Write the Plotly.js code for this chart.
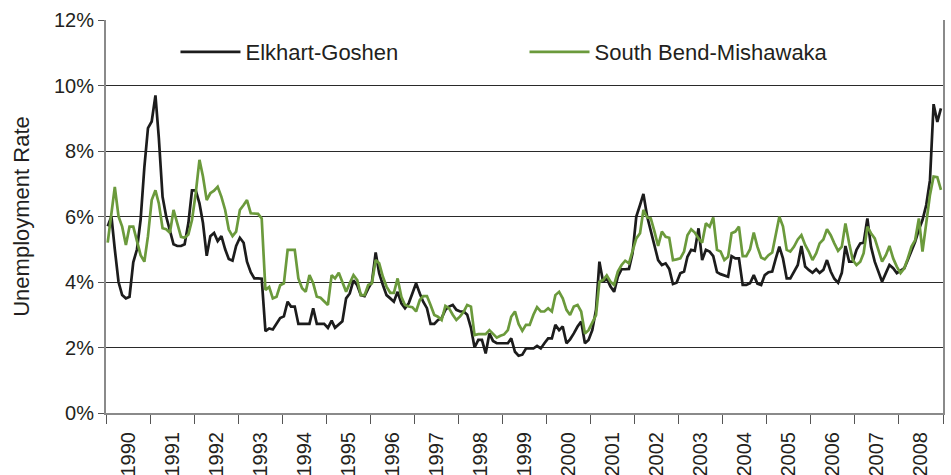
<!DOCTYPE html>
<html>
<head>
<meta charset="utf-8">
<script src="https://cdn.plot.ly/plotly-3.0.1.min.js"></script>
<style>html,body{margin:0;padding:0;background:#fff;}#chart{width:951px;height:475px;}</style>
</head>
<body>
<div id="chart"></div>
<script>
// Monthly unemployment rate (%), Jan 1990 - Dec 2008
const years = [1990,1991,1992,1993,1994,1995,1996,1997,1998,1999,2000,2001,2002,2003,2004,2005,2006,2007,2008];
const seriesNames = ["Elkhart-Goshen", "South Bend-Mishawaka"];
const elkhartGoshen = [
  5.7, 6.0, 5.0, 4.0, 3.6, 3.5, 3.55, 4.6, 5.0, 5.9, 7.5, 8.7,        // 1990
  8.9, 9.7, 8.4, 6.6, 6.0, 5.6, 5.15, 5.1, 5.1, 5.15, 5.8, 6.8,       // 1991
  6.8, 6.4, 5.8, 4.8, 5.4, 5.5, 5.25, 5.4, 5.0, 4.7, 4.65, 5.1,       // 1992
  5.35, 5.2, 4.62, 4.3, 4.11, 4.11, 4.1, 2.5, 2.58, 2.55, 2.74, 2.9,  // 1993
  2.95, 3.4, 3.25, 3.25, 2.72, 2.72, 2.72, 2.72, 3.2, 2.72, 2.72, 2.72, // 1994
  2.6, 2.82, 2.6, 2.7, 2.8, 3.5, 3.65, 4.05, 3.9, 3.6, 3.57, 3.8,     // 1995
  4.0, 4.9, 4.27, 3.91, 3.6, 3.5, 3.4, 3.7, 3.35, 3.2, 3.35, 3.65,    // 1996
  3.96, 3.65, 3.4, 3.2, 2.72, 2.72, 2.84, 2.9, 3.15, 3.25, 3.3, 3.15, // 1997
  3.1, 3.1, 3.0, 2.6, 2.0, 2.23, 2.23, 1.82, 2.43, 2.2, 2.13, 2.13,   // 1998
  2.13, 2.13, 2.28, 1.87, 1.75, 1.78, 1.97, 1.97, 1.97, 2.05, 1.97, 2.13, // 1999
  2.28, 2.28, 2.69, 2.53, 2.64, 2.13, 2.25, 2.43, 2.64, 2.79, 2.13, 2.23, // 2000
  2.53, 3.15, 4.62, 4.0, 4.11, 3.86, 3.7, 4.16, 4.39, 4.39, 4.4, 4.88, // 2001
  6.0, 6.35, 6.69, 6.0, 5.54, 5.08, 4.67, 4.52, 4.57, 4.4, 3.94, 3.98, // 2002
  4.27, 4.32, 4.77, 4.98, 4.95, 5.64, 4.67, 4.98, 4.93, 4.79, 4.3, 4.24, // 2003
  4.2, 4.16, 4.79, 4.72, 4.72, 3.91, 3.91, 3.96, 4.21, 3.95, 3.91, 4.21, // 2004
  4.3, 4.32, 4.7, 5.08, 4.72, 4.11, 4.11, 4.3, 4.52, 5.1, 4.47, 4.37, // 2005
  4.28, 4.39, 4.28, 4.37, 4.67, 4.32, 4.1, 3.98, 4.28, 5.1, 4.62, 4.62, // 2006
  4.98, 5.18, 5.2, 5.94, 5.08, 4.62, 4.3, 4.01, 4.27, 4.52, 4.42, 4.27, // 2007
  4.35, 4.42, 4.67, 4.93, 5.23, 5.6, 5.89, 6.35, 7.11, 9.43, 8.89, 9.3  // 2008
];
const southBendMishawaka = [
  5.2, 6.1, 6.9, 6.0, 5.69, 5.13, 5.69, 5.69, 5.28, 4.82, 4.62, 5.4,  // 1990
  6.5, 6.8, 6.4, 5.64, 5.61, 5.5, 6.2, 5.8, 5.38, 5.35, 5.45, 5.89,   // 1991
  6.71, 7.73, 7.22, 6.5, 6.71, 6.79, 6.91, 6.6, 6.2, 5.6, 5.4, 5.54,  // 1992
  6.2, 6.35, 6.5, 6.1, 6.1, 6.08, 5.94, 3.76, 3.85, 3.5, 3.55, 3.9,   // 1993
  3.96, 4.98, 4.98, 4.98, 4.11, 3.81, 3.7, 4.21, 3.96, 3.55, 3.52, 3.4, // 1994
  3.3, 4.21, 4.11, 4.28, 4.01, 3.7, 3.96, 4.21, 4.06, 3.6, 3.6, 3.91, // 1995
  3.96, 4.67, 4.57, 4.16, 3.86, 3.67, 3.67, 4.11, 3.55, 3.3, 3.25, 3.23, // 1996
  3.1, 3.45, 3.57, 3.57, 3.3, 2.99, 2.94, 2.84, 3.27, 3.2, 3.0, 2.84, // 1997
  2.95, 3.1, 3.3, 3.25, 2.38, 2.41, 2.41, 2.41, 2.53, 2.41, 2.3, 2.36, // 1998
  2.4, 2.53, 2.94, 3.1, 2.72, 2.51, 2.69, 2.69, 3.0, 3.23, 3.1, 3.1,  // 1999
  3.2, 3.1, 3.6, 3.7, 3.5, 3.15, 2.99, 3.25, 3.3, 3.1, 2.43, 2.53,    // 2000
  2.74, 2.99, 4.01, 4.06, 4.2, 4.01, 3.91, 4.32, 4.52, 4.65, 4.57, 4.98, // 2001
  5.33, 5.49, 6.2, 5.97, 5.94, 5.54, 5.1, 5.54, 5.38, 5.35, 4.67, 4.69, // 2002
  4.72, 4.93, 5.43, 5.61, 5.51, 5.33, 5.2, 5.79, 5.69, 5.97, 4.98, 4.93, // 2003
  4.67, 4.77, 5.49, 5.54, 5.69, 4.79, 4.79, 5.0, 5.51, 5.08, 4.75, 4.69, // 2004
  4.82, 4.9, 5.38, 5.99, 5.7, 4.98, 4.93, 5.08, 5.3, 5.43, 5.13, 4.93, // 2005
  4.67, 4.88, 5.18, 5.3, 5.61, 5.43, 5.18, 4.95, 5.08, 5.79, 5.18, 4.67, // 2006
  4.52, 4.62, 4.88, 5.69, 5.49, 5.33, 4.98, 4.62, 4.82, 5.1, 4.72, 4.47, // 2007
  4.27, 4.42, 4.72, 5.08, 5.28, 5.94, 4.93, 5.8, 6.66, 7.22, 7.2, 6.81  // 2008
];
const yTickVals = [0, 2, 4, 6, 8, 10, 12];
const yTickText = ["0%", "2%", "4%", "6%", "8%", "10%", "12%"];

const dates = [];
years.forEach(y => { for (let m = 1; m <= 12; m++) dates.push(y + "-" + String(m).padStart(2, "0") + "-15"); });

const FONT = "Liberation Sans, Arial, Helvetica, sans-serif";
const TXT = "#231f20";

const traces = [
  {x: dates, y: elkhartGoshen, name: seriesNames[0], type: "scatter", mode: "lines",
   line: {color: "#1c1c1c", width: 2.7}, legend: "legend"},
  {x: dates, y: southBendMishawaka, name: seriesNames[1], type: "scatter", mode: "lines",
   line: {color: "#6b9a3c", width: 2.7}, legend: "legend2"}
];

const layout = {
  width: 951, height: 475,
  margin: {l: 106, r: 8, t: 20, b: 62},
  paper_bgcolor: "#fff", plot_bgcolor: "#fff",
  font: {family: FONT, color: TXT, size: 19},
  showlegend: true,
  legend: {x: 0.083, y: 0.972, xanchor: "left", yanchor: "top", orientation: "h",
           bgcolor: "rgba(0,0,0,0)", font: {family: FONT, size: 22, color: TXT}, itemwidth: 60},
  legend2: {x: 0.5, y: 0.972, xanchor: "left", yanchor: "top", orientation: "h",
           bgcolor: "rgba(0,0,0,0)", font: {family: FONT, size: 22, color: TXT}, itemwidth: 60},
  xaxis: {
    type: "date",
    range: ["1990-01-01", "2009-01-01"],
    tick0: "1990-01-01", dtick: "M12",
    ticklabelmode: "period", tickformat: "%Y",
    tickangle: -90,
    ticks: "outside", ticklen: 9, tickcolor: "#555", tickwidth: 1,
    showline: true, linecolor: "#8a8a8a", linewidth: 2,
    showgrid: false, zeroline: false,
    tickfont: {family: FONT, size: 20, color: TXT}
  },
  yaxis: {
    range: [0, 12], tickvals: yTickVals, ticktext: yTickText,
    ticks: "outside", ticklen: 6, tickcolor: "#555", tickwidth: 1,
    showline: true, linecolor: "#8a8a8a", linewidth: 2, mirror: true,
    showgrid: true, gridcolor: "#2a2a2a", gridwidth: 1,
    zeroline: false,
    tickfont: {family: FONT, size: 20, color: TXT},
    title: {text: "Unemployment Rate", font: {family: FONT, size: 22, color: TXT}, standoff: 18}
  }
};

Plotly.newPlot("chart", traces, layout, {displayModeBar: false, staticPlot: true});
</script>
</body>
</html>
